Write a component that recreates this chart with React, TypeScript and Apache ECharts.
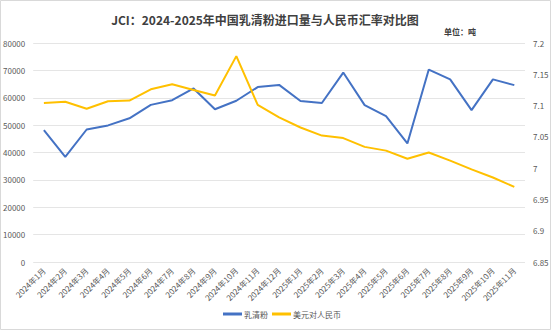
import React, { useEffect, useRef } from "react";
import * as echarts from "echarts";

const categories = [
  "2024年1月", "2024年2月", "2024年3月", "2024年4月", "2024年5月", "2024年6月",
  "2024年7月", "2024年8月", "2024年9月", "2024年10月", "2024年11月", "2024年12月",
  "2025年1月", "2025年2月", "2025年3月", "2025年4月", "2025年5月", "2025年6月",
  "2025年7月", "2025年8月", "2025年9月", "2025年10月", "2025年11月",
];

const wheyImports = [
  48200, 38400, 48400, 49900, 52500, 57400, 59100, 63400, 55800, 58900, 63900, 64700,
  58800, 58100, 69200, 57300, 53300, 43300, 70300, 66700, 55500, 66700, 64600,
];

const usdCny = [
  7.104, 7.106, 7.095, 7.107, 7.108, 7.126, 7.134, 7.125, 7.116, 7.179, 7.101, 7.081,
  7.065, 7.052, 7.048, 7.034, 7.028, 7.015, 7.025, 7.012, 6.998, 6.985, 6.970,
];

const titleText = "JCI：2024-2025年中国乳清粉进口量与人民币汇率对比图";
const unitText = "单位：吨";
const seriesNames = ["乳清粉", "美元对人民币"];

const FONT = "'Noto Sans CJK SC', 'Noto Sans', sans-serif";

export default function App() {
  const ref = useRef<HTMLDivElement>(null);
  useEffect(() => {
    document.body.style.margin = "0";
    const chart = echarts.init(ref.current!, null, { renderer: "svg" });
    chart.setOption({
      animation: false,
      backgroundColor: "#ffffff",
      textStyle: { fontFamily: FONT },
      title: [
        {
          text: titleText,
          left: 260,
          textAlign: "center",
          top: 8,
          textStyle: { fontSize: 12, fontWeight: "bold", color: "#404040", fontFamily: FONT },
        },
        {
          text: unitText,
          left: 439,
          top: 22,
          textStyle: { fontSize: 8, fontWeight: "bold", color: "#404040", fontFamily: FONT },
        },
      ],
      graphic: [
        {
          type: "rect",
          shape: { x: 0.5, y: 0.5, width: 550, height: 329 },
          style: { fill: "none", stroke: "#D9D9D9", lineWidth: 1 },
          silent: true,
        },
      ],
      legend: {
        bottom: 8,
        left: 218,
        itemWidth: 19,
        itemHeight: 3,
        itemGap: 4,
        icon: "rect",
        textStyle: { fontSize: 8, color: "#595959", fontFamily: FONT, padding: [0, 0, 0, -3] },
        data: seriesNames,
      },
      grid: { left: 32, right: 29, top: 43, bottom: 69, containLabel: false },
      xAxis: {
        type: "category",
        data: categories,
        boundaryGap: true,
        axisLine: { show: false },
        axisTick: { show: false },
        axisLabel: {
          rotate: 45,
          interval: 0,
          fontSize: 8,
          color: "#595959",
          margin: 7,
          fontFamily: FONT,
        },
      },
      yAxis: [
        {
          type: "value",
          min: 0,
          max: 80000,
          interval: 10000,
          axisLine: { show: false },
          axisTick: { show: false },
          axisLabel: {
            fontSize: 8,
            color: "#595959",
            margin: 8,
            fontFamily: FONT,
            formatter: (v: number) => String(v),
          },
          splitLine: { lineStyle: { color: "#E5E5E5", width: 1 } },
        },
        {
          type: "value",
          min: 6.85,
          max: 7.2,
          interval: 0.05,
          axisLine: { show: false },
          axisTick: { show: false },
          axisLabel: {
            fontSize: 8,
            color: "#595959",
            margin: 8,
            fontFamily: FONT,
            formatter: (v: number) => String(parseFloat(v.toFixed(2))),
          },
          splitLine: { show: false },
        },
      ],
      series: [
        {
          name: seriesNames[0],
          type: "line",
          yAxisIndex: 0,
          data: wheyImports,
          symbol: "none",
          lineStyle: { color: "#4472C4", width: 2 },
          itemStyle: { color: "#4472C4" },
        },
        {
          name: seriesNames[1],
          type: "line",
          yAxisIndex: 1,
          data: usdCny,
          symbol: "none",
          lineStyle: { color: "#FFC000", width: 2 },
          itemStyle: { color: "#FFC000" },
        },
      ],
    });
    return () => chart.dispose();
  }, []);
  return <div ref={ref} style={{ width: 554, height: 331 }} />;
}
